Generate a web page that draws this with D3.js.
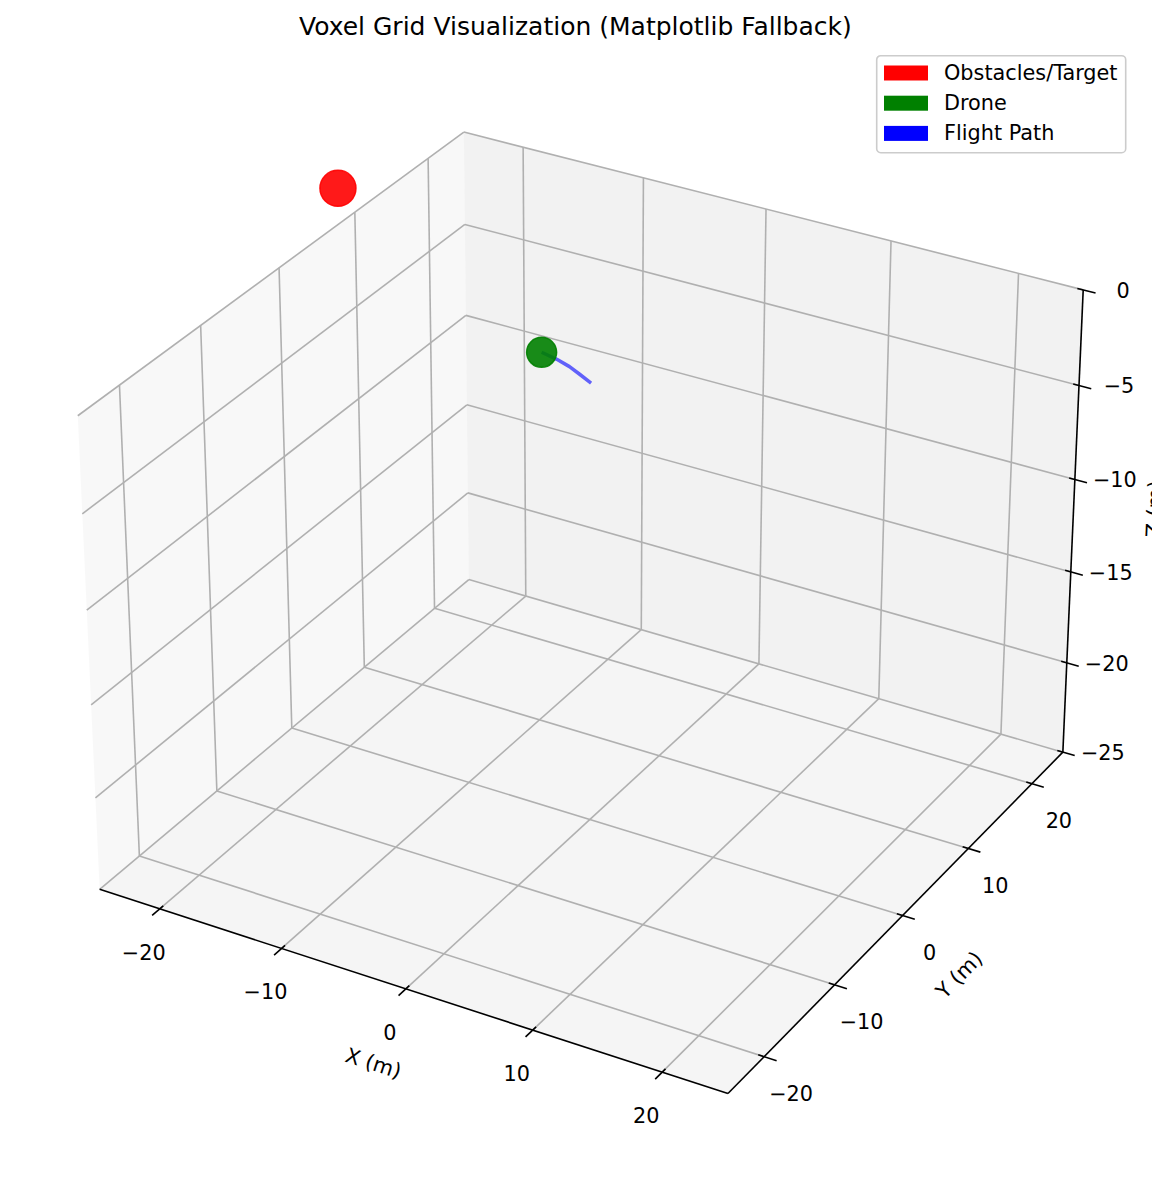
<!DOCTYPE html>
<html>
<head>
<meta charset="utf-8">
<script src="https://cdn.jsdelivr.net/npm/d3@7"></script>
<style>
  body { margin: 0; background: #fff; overflow: hidden; }
  svg { display: block; font-family: "DejaVu Sans", sans-serif; }
</style>
</head>
<body>
<script>
// axis limits and ticks
var xLimits = [-25, 25];
var yLimits = [-25, 25];
var zLimits = [-25, 0];
var xTicks = [-20, -10, 0, 10, 20];
var yTicks = [-20, -10, 0, 10, 20];
var zTicks = [-25, -20, -15, -10, -5, 0];

// scene data (metres)
var targetX = [-16.8];
var targetY = [-5];
var targetZ = [6.9];
var droneX = [-3.8];
var droneY = [0];
var droneZ = [-0.7];
var pathX = [-3.8, -2.6, -1.6, -0.8, 0.1];
var pathY = [0, 0, 0, 0, 0];
var pathZ = [-0.7, -0.85, -1.05, -1.3, -1.6];

var legendLabels = ["Obstacles/Target", "Drone", "Flight Path"];
var legendColors = ["red", "green", "blue"];

var WIDTH = 1152;
var HEIGHT = 1182;
var FONT = "20.8px";

// matplotlib default view: elev 30, azim -60, box aspect 4:4:3, persp with dist 10
var ELEV = 30, AZIM = -60, DIST = 10;
var BOX = [8 / 7, 8 / 7, 6 / 7];

var bx = d3.scaleLinear().domain(xLimits).range([-BOX[0] / 2, BOX[0] / 2]);
var by = d3.scaleLinear().domain(yLimits).range([-BOX[1] / 2, BOX[1] / 2]);
var bz = d3.scaleLinear().domain(zLimits).range([-BOX[2] / 2, BOX[2] / 2]);

var el = ELEV * Math.PI / 180, az = AZIM * Math.PI / 180;
var w = [Math.cos(el) * Math.cos(az), Math.cos(el) * Math.sin(az), Math.sin(el)];
var un = Math.hypot(w[0], w[1]);
var u = [-w[1] / un, w[0] / un, 0];
var v = [w[1] * u[2] - w[2] * u[1], w[2] * u[0] - w[0] * u[2], w[0] * u[1] - w[1] * u[0]];

function dot(a, b) { return a[0] * b[0] + a[1] * b[1] + a[2] * b[2]; }

// projected plane -> pixels
var sx = d3.scaleLinear().domain([0, 0.1]).range([589.8, 589.8 + 630]);
var sy = d3.scaleLinear().domain([0, 0.1]).range([590.6, 590.6 - 630]);

function project(x, y, z) {
  var q = [bx(x), by(y), bz(z)];
  var d = DIST - dot(w, q);
  return [sx(dot(u, q) / d), sy(dot(v, q) / d)];
}

var x0 = xLimits[0], x1 = xLimits[1];
var y0 = yLimits[0], y1 = yLimits[1];
var z0 = zLimits[0], z1 = zLimits[1];

var svg = d3.select("body")
  .append("svg")
  .attr("width", WIDTH)
  .attr("height", HEIGHT);

var line = d3.line();

// panes
var panes = [
  { pts: [[x0, y0, z0], [x0, y1, z0], [x0, y1, z1], [x0, y0, z1]], fill: "rgb(242,242,242)" },
  { pts: [[x0, y1, z0], [x1, y1, z0], [x1, y1, z1], [x0, y1, z1]], fill: "rgb(230,230,230)" },
  { pts: [[x0, y0, z0], [x1, y0, z0], [x1, y1, z0], [x0, y1, z0]], fill: "rgb(236,236,236)" }
];
svg.append("g").selectAll("path")
  .data(panes)
  .enter().append("path")
  .attr("d", function(d) { return line(d.pts.map(function(p) { return project(p[0], p[1], p[2]); })) + "Z"; })
  .style("fill", function(d) { return d.fill; })
  .style("fill-opacity", 0.5)
  .style("stroke", "none");

// grid lines
var grid = [];
xTicks.forEach(function(t) {
  grid.push([[t, y0, z0], [t, y1, z0]]);
  grid.push([[t, y1, z0], [t, y1, z1]]);
});
yTicks.forEach(function(t) {
  grid.push([[x0, t, z0], [x1, t, z0]]);
  grid.push([[x0, t, z0], [x0, t, z1]]);
});
zTicks.forEach(function(t) {
  grid.push([[x0, y0, t], [x0, y1, t]]);
  grid.push([[x0, y1, t], [x1, y1, t]]);
});
svg.append("g").selectAll("path")
  .data(grid)
  .enter().append("path")
  .attr("d", function(d) { return line(d.map(function(p) { return project(p[0], p[1], p[2]); })); })
  .style("fill", "none")
  .style("stroke", "#b0b0b0")
  .style("stroke-width", 1.6);

// axis lines
var axes = [
  [[x0, y0, z0], [x1, y0, z0]],
  [[x1, y0, z0], [x1, y1, z0]],
  [[x1, y1, z0], [x1, y1, z1]]
];
svg.append("g").selectAll("path")
  .data(axes)
  .enter().append("path")
  .attr("d", function(d) { return line(d.map(function(p) { return project(p[0], p[1], p[2]); })); })
  .style("fill", "none")
  .style("stroke", "#000")
  .style("stroke-width", 1.6);

var TICK_OUT = 0.95, TICK_IN = 0.45;
var fmt = d3.format("d");

function drawTicks(ticks, pOut, pIn, pAt, dx, dy) {
  var g = svg.append("g");
  g.selectAll("path")
    .data(ticks)
    .enter().append("path")
    .attr("d", function(t) { return line([pOut(t), pIn(t)]); })
    .style("stroke", "#000")
    .style("stroke-width", 1.6);
  g.selectAll("text")
    .data(ticks)
    .enter().append("text")
    .attr("x", function(t) { return pAt(t)[0] + dx; })
    .attr("y", function(t) { return pAt(t)[1] + dy; })
    .attr("text-anchor", "middle")
    .attr("dominant-baseline", "central")
    .style("font-size", FONT)
    .text(fmt);
}

drawTicks(xTicks,
  function(t) { return project(t, y0 - TICK_OUT, z0); },
  function(t) { return project(t, y0 + TICK_IN, z0); },
  function(t) { return project(t, y0, z0); }, -16, 44);
drawTicks(yTicks,
  function(t) { return project(x1 + TICK_OUT, t, z0); },
  function(t) { return project(x1 - TICK_IN, t, z0); },
  function(t) { return project(x1, t, z0); }, 27, 37);
drawTicks(zTicks,
  function(t) { return project(x1 + TICK_OUT, y1, t); },
  function(t) { return project(x1 - TICK_IN, y1, t); },
  function(t) { return project(x1, y1, t); }, 40, 1);

// axis labels, rotated along their axis
function axisLabel(text, a, b, mid, dx, dy) {
  var pa = project(a[0], a[1], a[2]), pb = project(b[0], b[1], b[2]);
  var pm = project(mid[0], mid[1], mid[2]);
  var ang = Math.atan2(pb[1] - pa[1], pb[0] - pa[0]) * 180 / Math.PI;
  var x = pm[0] + dx, y = pm[1] + dy;
  svg.append("text")
    .attr("transform", "translate(" + x + "," + y + ") rotate(" + ang + ")")
    .attr("text-anchor", "middle")
    .attr("dominant-baseline", "central")
    .style("font-size", FONT)
    .text(text);
}
axisLabel("X (m)", [x0, y0, z0], [x1, y0, z0], [0, y0, z0], -32.5, 74.5);
axisLabel("Y (m)", [x1, y0, z0], [x1, y1, z0], [x1, 0, z0], 56.7, 59.4);
// sits past the right edge, clipped like the original figure
axisLabel("Z (m)", [x1, y1, z0], [x1, y1, z1], [x1, y1, (z0 + z1) / 2], 82, -17);

// flight path, drone, target
var path = pathX.map(function(x, i) { return project(x, pathY[i], pathZ[i]); });
svg.append("path")
  .attr("d", line(path))
  .style("fill", "none")
  .style("stroke", "blue")
  .style("stroke-opacity", 0.6)
  .style("stroke-width", 3.5)
  .style("stroke-linejoin", "round");

svg.append("g").selectAll("circle")
  .data(droneX.map(function(x, i) { return project(x, droneY[i], droneZ[i]); }))
  .enter().append("circle")
  .attr("cx", function(d) { return d[0]; })
  .attr("cy", function(d) { return d[1]; })
  .attr("r", 15)
  .style("fill", "green")
  .style("fill-opacity", 0.9)
  .style("stroke", "green")
  .style("stroke-opacity", 0.9)
  .style("stroke-width", 1.5);

svg.append("g").selectAll("circle")
  .data(targetX.map(function(x, i) { return project(x, targetY[i], targetZ[i]); }))
  .enter().append("circle")
  .attr("cx", function(d) { return d[0]; })
  .attr("cy", function(d) { return d[1]; })
  .attr("r", 18)
  .style("fill", "red")
  .style("fill-opacity", 0.9)
  .style("stroke", "red")
  .style("stroke-opacity", 0.9)
  .style("stroke-width", 1.5);

// title
svg.append("text")
  .attr("x", 575.4)
  .attr("y", 35)
  .attr("text-anchor", "middle")
  .style("font-size", "25px")
  .text("Voxel Grid Visualization (Matplotlib Fallback)");

// legend
var legend = svg.append("g").attr("transform", "translate(876.7,55.7)");
legend.append("rect")
  .attr("width", 249)
  .attr("height", 97)
  .attr("rx", 4)
  .style("fill", "#fff")
  .style("fill-opacity", 0.8)
  .style("stroke", "#cccccc")
  .style("stroke-width", 1.6);
var rows = legend.selectAll("g.row")
  .data(legendLabels)
  .enter().append("g")
  .attr("class", "row")
  .attr("transform", function(d, i) { return "translate(0," + (17.3 + i * 30.2) + ")"; });
rows.append("rect")
  .attr("x", 7.3)
  .attr("y", -7.5)
  .attr("width", 44)
  .attr("height", 15)
  .style("fill", function(d, i) { return legendColors[i]; });
rows.append("text")
  .attr("x", 67.3)
  .attr("y", 0)
  .attr("dominant-baseline", "central")
  .style("font-size", FONT)
  .text(function(d) { return d; });
</script>
</body>
</html>
